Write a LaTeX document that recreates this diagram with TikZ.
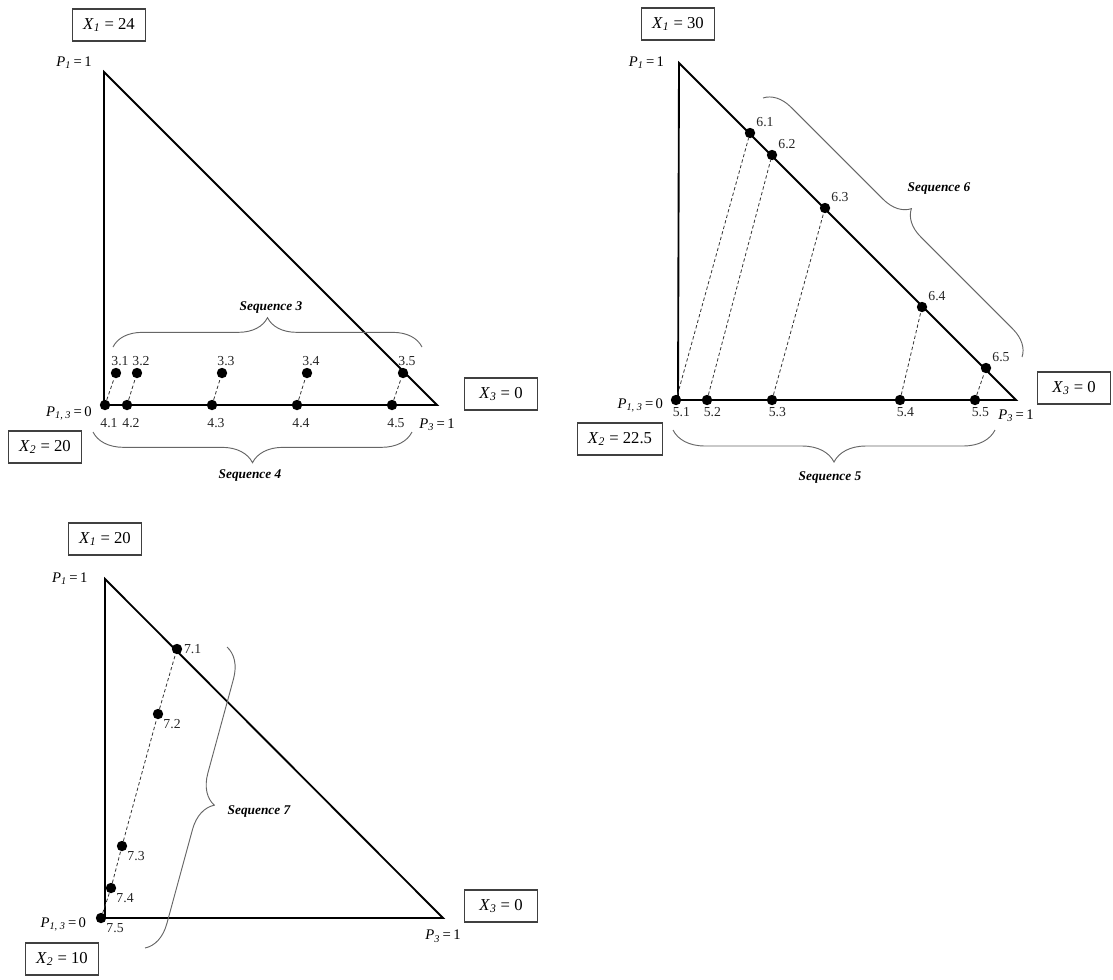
\documentclass[tikz,border=0pt]{standalone}
\usepackage{fontspec}
\setmainfont{Liberation Serif}
\usetikzlibrary{positioning,decorations.pathreplacing}
\tikzset{
  side/.style={
    line width=1.4pt,
    line join=miter,
    draw=black
  },
  dot/.style={
    circle,
    fill=black,
    inner sep=0pt,
    minimum size=7.8pt
  },
  num/.style={
    font=\fontsize{10.3}{12}\selectfont,
    inner sep=1pt,
    text=black!85
  },
  lblup/.style={label={[num,xshift=3pt,label distance=0pt]above:#1}},
  lbldown/.style={label={[num,xshift=3pt,label distance=4.5pt]below:#1}},
  lblbot/.style={label={[num,xshift=4pt,label distance=0pt]below:#1}},
  lblne/.style={label={[num,label distance=1pt]above right:#1}},
  lblright/.style={label={[num,label distance=0pt]right:#1}},
  lblse/.style={label={[num,label distance=0pt]below right:#1}},
  plabel/.style={
    font=\fontsize{11}{13}\selectfont,
    inner sep=1pt
  },
  valbox/.style={
    draw=black!75,
    line width=0.8pt,
    minimum width=55pt,
    minimum height=24pt,
    inner xsep=8pt,
    font=\fontsize{12.5}{14}\selectfont
  },
  seqlabel/.style={
    font=\fontsize{10}{12}\selectfont\bfseries\itshape,
    inner sep=1pt
  },
  guide/.style={
    dash pattern=on 2.5pt off 1.8pt,
    line width=0.6pt,
    black!80
  },
  seqbrace/.style={
    decorate,
    decoration={brace,amplitude=#1},
    draw=black!60,
    line width=0.7pt
  },
  seqbrace/.default=22pt
}
\newcommand{\xval}[2]{\textit{X}\textsubscript{\textit{#1}} = #2}
\newcommand{\pval}[2]{\textit{P}\textsubscript{\textit{#1}}\,=\,#2}

\begin{document}
\begin{tikzpicture}[x=0.75pt,y=-0.75pt]
\useasboundingbox (0,0) rectangle (1113,979);

% first triangle
\coordinate (t1) at (104,72);
\coordinate (o1) at (104,405);
\coordinate (r1) at (437,405);
\draw[side] (t1) -- (o1) -- (r1) -- cycle;
\node[plabel,left=8pt of t1,yshift=7pt] (pa1) {\pval{1}{1}};
\node[plabel,left=8pt of o1,yshift=-6pt] (pb1) {\pval{1, 3}{0}};
\node[plabel,below=9pt of r1] (pc1) {\pval{3}{1}};
\node[valbox] (xa1) at (109,25) {\xval{1}{24}};
\node[valbox] (xc1) at (501,394) {\xval{3}{0}};
\node[valbox] (xb1) at (45,447) {\xval{2}{20}};
\node[dot,lbldown=4.1] (d41) at (105,405) {};
\node[dot,lbldown=4.2] (d42) at (127,405) {};
\node[dot,lbldown=4.3] (d43) at (212,405) {};
\node[dot,lbldown=4.4] (d44) at (297,405) {};
\node[dot,lbldown=4.5] (d45) at (392,405) {};
\node[dot,lblup=3.1] (d31) at (116,373) {};
\node[dot,lblup=3.2] (d32) at (137,373) {};
\node[dot,lblup=3.3] (d33) at (222,373) {};
\node[dot,lblup=3.4] (d34) at (307,373) {};
\node[dot,lblup=3.5] (d35) at (403,373) {};
\draw[guide] (d41) -- (d31);
\draw[guide] (d42) -- (d32);
\draw[guide] (d43) -- (d33);
\draw[guide] (d44) -- (d34);
\draw[guide] (d45) -- (d35);
\coordinate (b3a) at (113,347);
\coordinate (b3b) at (422,347);
\draw[seqbrace] (b3a) -- (b3b);
\node[seqlabel] (s3) at (271,307) {Sequence 3};
\coordinate (b4a) at (412,432);
\coordinate (b4b) at (93,432);
\draw[seqbrace=23pt] (b4a) -- (b4b);
\node[seqlabel] (s4) at (250,475) {Sequence 4};

% second triangle
\coordinate (t2) at (679,63);
\coordinate (o2) at (678,400);
\coordinate (r2) at (1016,400);
\draw[side] (t2) -- (o2) -- (r2) -- cycle;
\node[plabel,left=10pt of t2] (pa2) {\pval{1}{1}};
\node[plabel,left=10pt of o2,yshift=-4pt] (pb2) {\pval{1, 3}{0}};
\node[plabel,below=6pt of r2] (pc2) {\pval{3}{1}};
\node[valbox] (xa2) at (678,24) {\xval{1}{30}};
\node[valbox] (xc2) at (1074,388) {\xval{3}{0}};
\node[valbox] (xb2) at (620,439) {\xval{2}{22.5}};
\node[dot,lblbot=5.1] (d51) at (676,400) {};
\node[dot,lblbot=5.2] (d52) at (707,400) {};
\node[dot,lblbot=5.3] (d53) at (772,400) {};
\node[dot,lblbot=5.4] (d54) at (900,400) {};
\node[dot,lblbot=5.5] (d55) at (975,400) {};
\node[dot,lblne=6.1] (d61) at (750,133) {};
\node[dot,lblne=6.2] (d62) at (772,155) {};
\node[dot,lblne=6.3] (d63) at (825,208) {};
\node[dot,lblne=6.4] (d64) at (922,307) {};
\node[dot,lblne=6.5] (d65) at (986,368) {};
\draw[guide] (d51) -- (d61);
\draw[guide] (d52) -- (d62);
\draw[guide] (d53) -- (d63);
\draw[guide] (d54) -- (d64);
\draw[guide] (d55) -- (d65);
\coordinate (b6a) at (763,98);
\coordinate (b6b) at (1022,357);
\draw[seqbrace=20pt] (b6a) -- (b6b);
\node[seqlabel] (s6) at (939,188) {Sequence 6};
\coordinate (b5a) at (995,430);
\coordinate (b5b) at (673,430);
\draw[seqbrace=24pt] (b5a) -- (b5b);
\node[seqlabel] (s5) at (830,477) {Sequence 5};

% third triangle
\coordinate (t3) at (105,579);
\coordinate (o3) at (105,918);
\coordinate (r3) at (443,918);
\draw[side] (t3) -- (o3) -- (r3) -- cycle;
\node[plabel,left=12pt of t3] (pa3) {\pval{1}{1}};
\node[plabel,left=13pt of o3,yshift=-5pt] (pb3) {\pval{1, 3}{0}};
\node[plabel,below=8pt of r3] (pc3) {\pval{3}{1}};
\node[valbox] (xa3) at (105,539) {\xval{1}{20}};
\node[valbox] (xc3) at (501,906) {\xval{3}{0}};
\node[valbox] (xb3) at (62,959) {\xval{2}{10}};
\node[dot,lblright=7.1] (d71) at (177,649) {};
\node[dot,lblse=7.2] (d72) at (158,714) {};
\node[dot,lblse=7.3] (d73) at (122,846) {};
\node[dot,lblse=7.4] (d74) at (111,888) {};
\node[dot,lblse=7.5] (d75) at (101,918) {};
\draw[guide] (d75) -- (d74) -- (d73) -- (d72) -- (d71);
\coordinate (b7a) at (227,647);
\coordinate (b7b) at (145,948);
\draw[seqbrace] (b7a) -- (b7b);
\node[seqlabel] (s7) at (259,811) {Sequence 7};
\end{tikzpicture}
\end{document}
